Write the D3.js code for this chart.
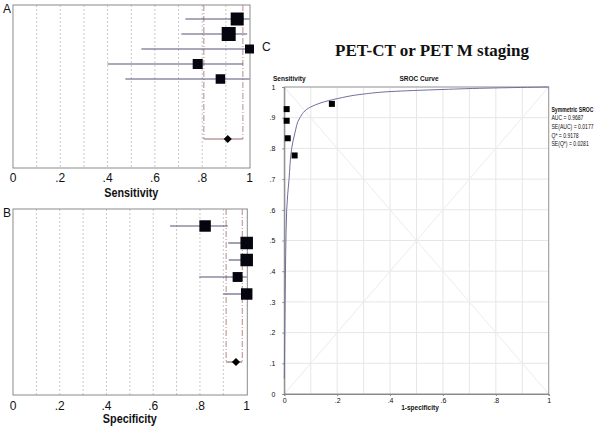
<!DOCTYPE html>
<html>
<head>
<meta charset="utf-8">
<script src="https://cdn.jsdelivr.net/npm/d3@7"></script>
<style>
    body { margin: 0; background: #fff; }
    text { font-family: Arial, "Liberation Sans", sans-serif; fill: #111; }
</style>
</head>
<body>
<div id="chart"></div>
<script>
// A: sensitivity per study
var sensEst = [0.948, 0.912, 1.0, 0.781, 0.877];
var sensLo = [0.729, 0.712, 0.543, 0.40, 0.475];
var sensHi = [1.0, 0.99, 1.0, 0.973, 1.0];
var sensWeight = [26.6, 30.8, 12.7, 15.7, 14.2];
var sensPooled = { est: 0.908, lo: 0.807, hi: 0.972 };

// B: specificity per study
var specEst = [0.822, 1.0, 1.0, 0.961, 1.0];
var specLo = [0.672, 0.921, 0.923, 0.797, 0.90];
var specHi = [0.919, 1.0, 1.0, 1.0, 1.0];
var specWeight = [19.5, 23.2, 23.2, 14.5, 19.5];
var specPooled = { est: 0.954, lo: 0.912, hi: 0.981 };

var forestTicks = [0, 0.2, 0.4, 0.6, 0.8, 1];
var forestGrid = [0.1, 0.2, 0.3, 0.4, 0.5, 0.6, 0.7, 0.8, 0.9];

// C: SROC
var studyFpr = [0.009, 0.009, 0.013, 0.039, 0.18];
var studyTpr = [0.928, 0.89, 0.833, 0.777, 0.945];
var curveFpr = [0, 0.003, 0.009, 0.018, 0.028, 0.04, 0.059, 0.1, 0.2, 0.3, 0.4, 0.6, 0.8, 1];
var curveTpr = [0.05, 0.3, 0.6, 0.7, 0.8, 0.85, 0.9, 0.935, 0.962, 0.977, 0.985, 0.992, 0.997, 1];
var srocTicks = [0, 0.1, 0.2, 0.3, 0.4, 0.5, 0.6, 0.7, 0.8, 0.9, 1];
var srocXLabels = [0, 0.2, 0.4, 0.6, 0.8, 1];
var legendLines = ["AUC = 0.9687", "SE(AUC) = 0.0177", "Q* = 0.9178", "SE(Q*) = 0.0281"];

var fmt = function (d) { return d === 0 ? "0" : d === 1 ? "1" : d3.format(".1f")(d).replace(/^0/, ""); };

var svg = d3.select("#chart").append("svg")
    .attr("width", 602)
    .attr("height", 432);

function forest(opt) {
    var g = svg.append("g");
    var x = d3.scaleLinear().domain([0, 1]).range([opt.left, opt.right]);
    var y = d3.scaleLinear().domain([0, 8]).range([opt.row0, opt.rowS]);
    var size = d3.scaleSqrt().domain([0, d3.max(opt.w)]).range([0, opt.maxBox]);

    // dotted grid
    g.selectAll(".grid").data(forestGrid).enter().append("line")
        .attr("x1", d => x(d)).attr("x2", d => x(d))
        .attr("y1", opt.top).attr("y2", opt.bottom)
        .attr("stroke", "#c8c8c8").attr("stroke-dasharray", "2,2");

    // frame
    g.append("rect")
        .attr("x", opt.left).attr("y", opt.top)
        .attr("width", opt.frameRight - opt.left).attr("height", opt.bottom - opt.top)
        .attr("fill", "none").attr("stroke", "#8a8a8a");

    // pooled CI dashed lines + bracket
    [opt.pooled.lo, opt.pooled.hi].forEach(function (v) {
        g.append("line")
            .attr("x1", x(v)).attr("x2", x(v))
            .attr("y1", opt.top).attr("y2", y(8))
            .attr("stroke", "#b98a8a").attr("stroke-dasharray", "6,2,1,2");
    });
    g.append("line")
        .attr("x1", x(opt.pooled.lo)).attr("x2", x(opt.pooled.hi))
        .attr("y1", y(8)).attr("y2", y(8))
        .attr("stroke", "#9a6a6a").attr("stroke-width", 1.2);

    var idx = d3.range(opt.est.length);
    g.selectAll(".ci").data(idx).enter().append("line")
        .attr("x1", i => x(opt.lo[i])).attr("x2", i => x(opt.hi[i]))
        .attr("y1", i => y(i)).attr("y2", i => y(i))
        .attr("stroke", "#555577").attr("stroke-width", 1.1);
    g.selectAll(".box").data(idx).enter().append("rect")
        .attr("x", i => x(opt.est[i]) - size(opt.w[i]) / 2)
        .attr("y", i => y(i) - size(opt.w[i]) / 2)
        .attr("width", i => size(opt.w[i]))
        .attr("height", i => size(opt.w[i]))
        .attr("fill", "#05050f");

    // pooled diamond
    g.append("path")
        .attr("d", d3.symbol(d3.symbolDiamond2, 42)())
        .attr("transform", "translate(" + x(opt.pooled.est) + "," + y(8) + ")")
        .attr("fill", "#000");

    g.selectAll(".tick").data(forestTicks).enter().append("text")
        .attr("x", d => x(d)).attr("y", opt.tickY)
        .attr("text-anchor", "middle").attr("font-size", 12)
        .text(fmt);
    g.append("text")
        .attr("x", (opt.left + opt.right) / 2).attr("y", opt.labelY)
        .attr("text-anchor", "middle").attr("font-size", 12).attr("font-weight", "bold")
        .attr("textLength", 54).attr("lengthAdjust", "spacingAndGlyphs")
        .text(opt.label);
    g.append("text")
        .attr("x", 3).attr("y", opt.top + 8)
        .attr("font-size", 12).text(opt.letter);
}

forest({
    est: sensEst, lo: sensLo, hi: sensHi, w: sensWeight, pooled: sensPooled,
    left: 13, right: 249.5, frameRight: 250, top: 5, bottom: 168,
    row0: 19, rowS: 139, maxBox: 14, tickY: 182, labelY: 197,
    label: "Sensitivity", letter: "A"
});
forest({
    est: specEst, lo: specLo, hi: specHi, w: specWeight, pooled: specPooled,
    left: 13, right: 246.7, frameRight: 247.3, top: 209, bottom: 395,
    row0: 226, rowS: 362, maxBox: 12.5, tickY: 410, labelY: 423,
    label: "Specificity", letter: "B"
});

// C: SROC plot
var c = svg.append("g");
var cx = d3.scaleLinear().domain([0, 1]).range([284.3, 548.7]);
var cy = d3.scaleLinear().domain([0, 1]).range([394, 87]);

c.append("text").attr("x", 262).attr("y", 51).attr("font-size", 12).text("C");
c.append("text")
    .attr("x", 432).attr("y", 56)
    .attr("text-anchor", "middle")
    .style("font-family", "'Liberation Serif', 'Times New Roman', serif")
    .attr("font-size", 17).attr("font-weight", "bold")
    .text("PET-CT or PET M staging");

c.selectAll(".gx").data(srocTicks).enter().append("line")
    .attr("x1", d => cx(d)).attr("x2", d => cx(d))
    .attr("y1", cy(0)).attr("y2", cy(1))
    .attr("stroke", "#e6e6e6");
c.selectAll(".gy").data(srocTicks).enter().append("line")
    .attr("x1", cx(0)).attr("x2", cx(1))
    .attr("y1", d => cy(d)).attr("y2", d => cy(d))
    .attr("stroke", "#e6e6e6");
c.append("line").attr("x1", cx(0)).attr("y1", cy(0)).attr("x2", cx(1)).attr("y2", cy(1))
    .attr("stroke", "#ececec");
c.append("line").attr("x1", cx(0)).attr("y1", cy(1)).attr("x2", cx(1)).attr("y2", cy(0))
    .attr("stroke", "#ececec");

c.append("rect")
    .attr("x", cx(0)).attr("y", cy(1))
    .attr("width", cx(1) - cx(0)).attr("height", cy(0) - cy(1))
    .attr("fill", "none").attr("stroke", "#9a9a9a");

c.append("g")
    .attr("transform", "translate(0," + cy(0) + ")")
    .call(d3.axisBottom(cx).tickValues(srocXLabels).tickSize(2).tickFormat(fmt))
    .call(g => g.select(".domain").attr("stroke", "#888"))
    .call(g => g.selectAll(".tick line").attr("stroke", "#888"))
    .call(g => g.selectAll(".tick text").attr("font-size", 7).attr("dy", "0.6em"));
c.append("g")
    .attr("transform", "translate(" + cx(0) + ",0)")
    .call(d3.axisLeft(cy).tickValues(srocTicks).tickSize(2).tickPadding(7).tickFormat(fmt))
    .call(g => g.select(".domain").attr("stroke", "#888"))
    .call(g => g.selectAll(".tick line").attr("stroke", "#888"))
    .call(g => g.selectAll(".tick text").attr("font-size", 7));

var curve = d3.line()
    .x((d, i) => cx(curveFpr[i]))
    .y((d, i) => cy(curveTpr[i]))
    .curve(d3.curveMonotoneY);
c.append("path")
    .datum(curveFpr)
    .attr("d", curve)
    .attr("fill", "none")
    .attr("stroke", "#6f6f9e")
    .attr("stroke-width", 1);

c.selectAll(".pt").data(studyFpr).enter().append("rect")
    .attr("x", (d, i) => cx(d) - 3)
    .attr("y", (d, i) => cy(studyTpr[i]) - 3)
    .attr("width", 6).attr("height", 6)
    .attr("fill", "#000");

c.append("text").attr("x", 273).attr("y", 81)
    .attr("font-size", 6.5).attr("font-weight", "bold").text("Sensitivity");
c.append("text").attr("x", 419).attr("y", 81).attr("text-anchor", "middle")
    .attr("font-size", 6.5).attr("font-weight", "bold").text("SROC Curve");
c.append("text").attr("x", 420).attr("y", 410).attr("text-anchor", "middle")
    .attr("font-size", 6.5).attr("font-weight", "bold").text("1-specificity");

// legend, horizontally condensed like the original
var leg = c.append("g").attr("transform", "translate(551.5,0) scale(0.78,1)");
leg.append("text").attr("x", 0).attr("y", 112)
    .attr("font-size", 6.5).attr("font-weight", "bold").text("Symmetric SROC");
leg.selectAll(".leg").data(legendLines).enter().append("text")
    .attr("x", 0).attr("y", (d, i) => 120.5 + i * 8.6)
    .attr("font-size", 6.5).text(d => d);
</script>
</body>
</html>
